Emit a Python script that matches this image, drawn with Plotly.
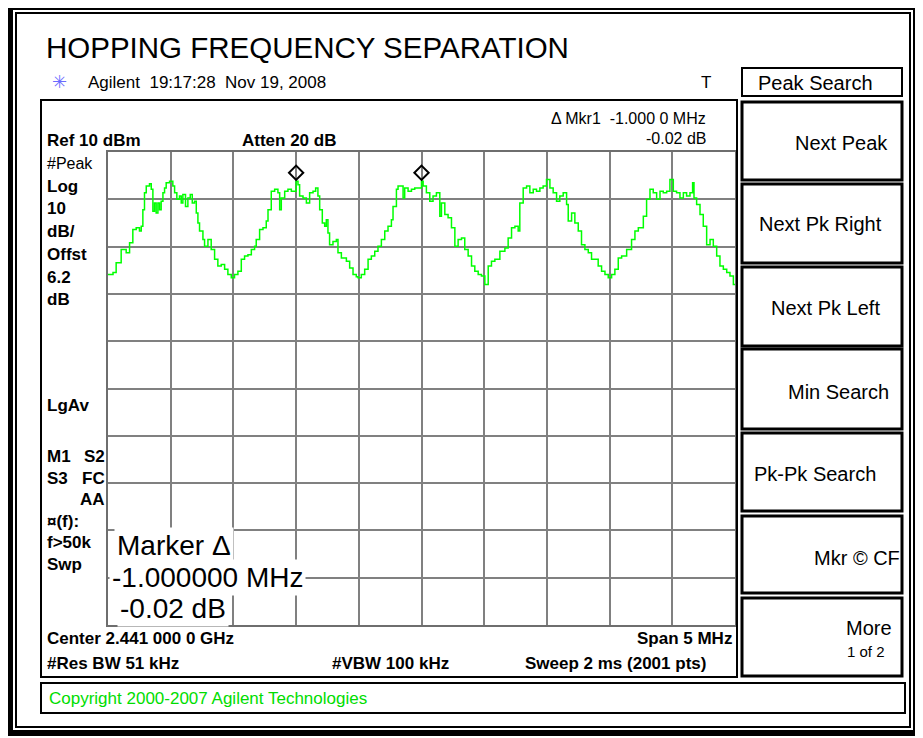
import plotly.graph_objects as go

# page / graticule geometry in screen pixels
W, H = 923, 738
PAGE_PAD = 8  # the page body margin that the browser adds around the plot div
GL, GR, GT, GB = 108, 735, 152, 625

START_MHZ = 2438.5
SPAN_MHZ = 5.0
REF_DBM = 10
DB_PER_DIV = 10

# trace: offset from start frequency (MHz) and level (dBm)
offset_mhz = [
    0.0, 0.04, 0.065, 0.105, 0.145, 0.172, 0.198, 0.225, 0.251, 0.265, 0.278, 0.291, 0.305, 0.331,
    0.345, 0.358, 0.371, 0.384, 0.398, 0.411, 0.424, 0.438, 0.451, 0.464, 0.491, 0.517, 0.531, 0.549,
    0.57, 0.584, 0.597, 0.618, 0.637, 0.656, 0.672, 0.69, 0.704, 0.717, 0.73, 0.757, 0.77, 0.797,
    0.823, 0.85, 0.876, 0.903, 0.93, 0.956, 0.983,
    1.009, 1.036, 1.063, 1.089, 1.116, 1.143, 1.169, 1.182, 1.209, 1.236, 1.262, 1.276, 1.302, 1.329,
    1.355, 1.369, 1.382, 1.409, 1.435, 1.462, 1.5, 1.515, 1.528, 1.555, 1.582, 1.608, 1.635, 1.656,
    1.674, 1.688, 1.709, 1.728, 1.741, 1.754, 1.767, 1.794, 1.821, 1.834, 1.861, 1.901, 1.927, 1.954,
    1.98, 1.994,
    2.02, 2.047, 2.074, 2.1, 2.127, 2.153, 2.18, 2.207, 2.233, 2.26, 2.273, 2.3, 2.313, 2.34, 2.353,
    2.366, 2.393, 2.42, 2.446, 2.5, 2.513, 2.539, 2.566, 2.592, 2.619, 2.646, 2.659, 2.686, 2.712,
    2.739, 2.766, 2.792, 2.819, 2.845, 2.872, 2.899, 2.925, 2.952, 2.978,
    3.005, 3.032, 3.058, 3.085, 3.125, 3.165, 3.191, 3.218, 3.245, 3.271, 3.284, 3.311, 3.338, 3.364,
    3.391, 3.417, 3.444, 3.47, 3.497, 3.524, 3.55, 3.577, 3.603, 3.63, 3.657, 3.67, 3.697, 3.723,
    3.75, 3.776, 3.803, 3.83, 3.856, 3.883, 3.909, 3.936, 3.963, 3.989,
    4.016, 4.042, 4.069, 4.096, 4.136, 4.175, 4.202, 4.229, 4.255, 4.269, 4.295, 4.322, 4.348, 4.375,
    4.402, 4.428, 4.455, 4.481, 4.508, 4.534, 4.561, 4.588, 4.614, 4.641, 4.662, 4.673, 4.694, 4.721,
    4.747, 4.774, 4.801, 4.827, 4.854, 4.88, 4.907, 4.934, 4.96, 4.987, 5.0,
]
level_dbm = [
    -15.9, -15.5, -13.4, -10.6, -11.3, -9.2, -6.4, -6.0, -6.7, -5.7, -2.2, 1.4, 2.8, 3.3,
    2.1, -2.5, -0.8, -2.9, -0.8, -2.2, -0.4, 1.4, 2.4, 3.5, 3.8, 2.8, 1.4, 0.0,
    0.7, -0.8, 1.0, -1.5, 0.3, 1.0, -0.8, -0.4, -2.9, -5.0, -6.7, -8.5, -9.9, -8.5,
    -10.6, -12.7, -14.1, -13.8, -14.8, -15.9, -16.6,
    -15.9, -15.2, -12.7, -12.0, -11.7, -10.6, -9.9, -8.5, -6.4, -6.0, -4.6, -2.2, 1.7, 2.1,
    1.4, -2.2, 0.3, 1.7, 2.1, 1.7, 3.8, 3.1, 0.7, 0.3, -0.8, 1.4, 1.7, 2.4,
    0.7, -2.2, -5.0, -5.7, -4.3, -7.1, -9.6, -8.9, -8.5, -11.3, -12.4, -13.1, -14.5, -15.9,
    -16.4, -16.6,
    -15.9, -14.8, -12.7, -12.0, -11.0, -9.9, -8.5, -6.7, -5.7, -4.3, -1.5, 2.1, 2.8, 2.8, 0.3,
    2.4, 1.7, 2.1, 2.4, 3.8, 2.8, 1.4, -0.4, 0.7, 1.4, -3.6, -0.8, -3.2, -3.9,
    -6.0, -9.9, -8.5, -8.2, -10.6, -12.0, -14.1, -15.2, -15.9, -16.2,
    -18.0, -14.1, -13.1, -12.7, -11.0, -10.3, -8.2, -6.0, -5.7, -6.7, -0.8, 2.4, 2.8, 1.4,
    2.1, 1.7, 2.4, 2.8, 4.2, 2.4, 1.4, -0.4, 0.7, 1.4, -1.1, -4.6, -2.9, -5.0,
    -6.7, -9.6, -10.6, -11.3, -12.7, -12.7, -14.1, -15.2, -15.9, -16.6,
    -15.9, -14.8, -12.4, -12.0, -10.6, -8.5, -6.7, -6.0, -6.0, -3.6, 0.0, 2.1, 1.4, 0.0,
    1.7, 1.4, 1.7, 4.2, 1.7, 1.4, 0.3, 1.4, 0.7, 1.4, 3.5, 0.3, -1.1, -3.2,
    -5.7, -9.6, -8.5, -9.9, -12.0, -14.1, -14.8, -15.5, -16.2, -18.0, -18.0,
]

# marker diamonds (drawn just above the peaks)
marker_mhz = [2440.0, 2441.0]
marker_dbm = [5.6, 5.6]

left_labels = [("#Peak", 163, False), ("Log", 186, True), ("10", 208, True), ("dB/", 231, True),
               ("Offst", 254, True), ("6.2", 277, True), ("dB", 299, True), ("LgAv", 405, True),
               ("M1", 456, True), ("S3", 478, True), ("¤(f):", 521, True), ("f>50k", 542, True),
               ("Swp", 564, True)]
left_labels_right = [("S2", 456), ("FC", 478), ("AA", 499)]

softkeys = ["Next Peak", "Next Pk Right", "Next Pk Left", "Min Search", "Pk-Pk Search", "Mkr © CF", "More"]

FONT = "Liberation Sans, Arial, sans-serif"
NB = "\u00a0"


def px(x):
    return (x - GL) / (GR - GL)


def py(y):
    return (GB - y) / (GB - GT)


annotations = []
shapes = []


def label(x, y, text, size=17, bold=False, anchor="left", color="black", **kw):
    t = f"<b>{text}</b>" if bold else text
    annotations.append(dict(x=px(x), y=py(y), xref="paper", yref="paper", text=t,
                            showarrow=False, xanchor=anchor, yanchor="middle",
                            font=dict(family=FONT, size=size, color=color), **kw))


def box(x0, y0, x1, y1, width=2, color="black"):
    shapes.append(dict(type="rect", xref="paper", yref="paper", x0=px(x0), x1=px(x1),
                       y0=py(y0), y1=py(y1), line=dict(color=color, width=width)))


freq_mhz = [START_MHZ + f for f in offset_mhz]

fig = go.Figure()
fig.add_trace(go.Scatter(x=freq_mhz, y=level_dbm, mode="lines",
                         line=dict(color="#00ff00", width=1.5, shape="hv"), hoverinfo="skip"))
fig.add_trace(go.Scatter(x=marker_mhz, y=marker_dbm, mode="markers", cliponaxis=False,
                         marker=dict(symbol="diamond-open", size=11, color="black", line=dict(width=2))))

# frames
box(10, 7, 916, 733, width=6)
box(16, 13, 910, 727, width=2)
box(41, 100, 737, 677)
box(41, 683, 905, 713)
box(742, 68, 902, 96)
key_rows = [(102, 180), (184, 263), (267, 346), (349, 429), (433, 511), (516, 593), (598, 676)]
for y0, y1 in key_rows:
    box(742, y0, 902, y1, width=3)

# header
label(44, 48, "HOPPING FREQUENCY SEPARATION", size=29.5)
label(59, 82, "✳", size=18, anchor="center", color="#6b6bff")
label(86, 82, f"Agilent{NB}{NB}19:17:28{NB}{NB}Nov 19, 2008", size=17)
label(706, 82, "T", size=17, anchor="center")

# readouts inside the display
label(708, 118, f"Δ Mkr1{NB}{NB}-1.000 0 MHz", size=16, anchor="right")
label(708, 139, "-0.02 dB", size=16, anchor="right")
label(45, 141, "Ref 10 dBm", bold=True)
label(240, 141, "Atten 20 dB", bold=True)
for text, y, b in left_labels:
    label(45, y, text, size=17 if b else 16, bold=b)
for text, y in left_labels_right:
    label(107, y, text, bold=True, anchor="right")

label(114, 545, "Marker Δ", size=28, bgcolor="white", borderpad=2)
label(109, 577, "-1.000000 MHz", size=28, bgcolor="white", borderpad=2)
label(117, 608, "-0.02 dB", size=28, bgcolor="white", borderpad=2)

label(45, 638, "Center 2.441 000 0 GHz", bold=True)
label(734, 638, "Span 5 MHz", bold=True, anchor="right")
label(45, 663, "#Res BW 51 kHz", bold=True)
label(330, 663, "#VBW 100 kHz", bold=True)
label(708, 663, "Sweep 2 ms (2001 pts)", bold=True, anchor="right")
label(47, 698, "Copyright 2000-2007 Agilent Technologies", size=17, color="#00dd00")

# softkey panel
label(756, 83, "Peak Search", size=20)
key_pos = [(890, 143, "right"), (821, 224, "center"), (825, 308, "center"), (891, 392, "right"),
           (752, 474, "left"), (902, 558, "right"), (894, 628, "right")]
for text, (x, y, a) in zip(softkeys, key_pos):
    label(x, y, text, size=20, anchor=a)
label(887, 651, "1 of 2", size=15, anchor="right")

axis = dict(showticklabels=False, ticks="", showgrid=True, gridcolor="#808080", gridwidth=2,
            zeroline=False, showline=True, mirror=True, linecolor="#6e6e6e", linewidth=2, fixedrange=True)
fig.update_layout(
    width=W - PAGE_PAD, height=H - PAGE_PAD, autosize=False,
    margin=dict(l=GL - PAGE_PAD, r=W - GR, t=GT - PAGE_PAD, b=H - GB),
    paper_bgcolor="white", plot_bgcolor="white",
    showlegend=False,
    xaxis=dict(axis, range=[START_MHZ, START_MHZ + SPAN_MHZ], tick0=START_MHZ, dtick=SPAN_MHZ / 10),
    yaxis=dict(axis, range=[REF_DBM - 10 * DB_PER_DIV, REF_DBM], dtick=DB_PER_DIV),
    shapes=shapes,
    annotations=annotations,
)

fig.write_html("out.html")
